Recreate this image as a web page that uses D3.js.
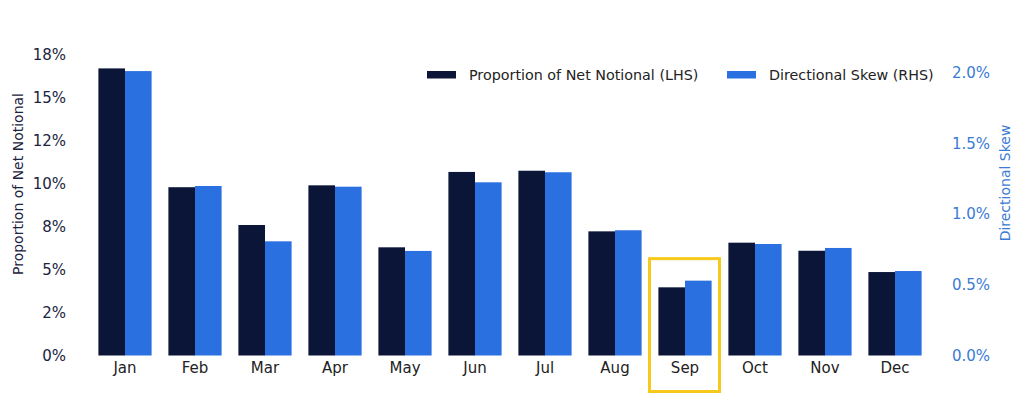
<!DOCTYPE html>
<html>
<head>
<meta charset="utf-8">
<script src="https://cdn.jsdelivr.net/npm/d3@7"></script>
<style>
	body { margin: 0; background: #fff; }
	svg text { font-family: 'DejaVu Sans', sans-serif; }
</style>
</head>
<body>
<svg id="chart" width="1024" height="402"></svg>
<script>
// chart values
const months = ['Jan', 'Feb', 'Mar', 'Apr', 'May', 'Jun', 'Jul', 'Aug', 'Sep', 'Oct', 'Nov', 'Dec'];
const netNotional = [16.72, 9.80, 7.60, 9.91, 6.30, 10.69, 10.76, 7.23, 3.97, 6.57, 6.10, 4.86];
const directionalSkew = [2.01, 1.198, 0.807, 1.193, 0.739, 1.224, 1.295, 0.885, 0.529, 0.788, 0.760, 0.597];
const leftTicks = [0, 2.5, 5, 7.5, 10, 12.5, 15, 17.5];
const leftTickLabels = ['0%', '2%', '5%', '8%', '10%', '12%', '15%', '18%'];
const rightTicks = [0, 0.5, 1, 1.5, 2];
const rightTickLabels = ['0.0%', '0.5%', '1.0%', '1.5%', '2.0%'];
const legendLabels = ['Proportion of Net Notional (LHS)', 'Directional Skew (RHS)'];
const highlightMonth = 'Sep';

const darkColor = '#0a1538';
const blueColor = '#2b70e0';
const highlightColor = '#f7c91a';

let svg = d3.select('#chart');

let x = d3.scaleBand().domain(months).range([90, 930]).padding(0);
let yLeft = d3.scaleLinear().domain([0, 17.5]).range([355.5, 55]);
let yRight = d3.scaleLinear().domain([0, 2]).range([355.5, 72.5]);
let barW = x.bandwidth() * 0.38;

//bars for both series
svg.append('g').selectAll('rect')
	.data(months)
	.join('rect')
	.attr('x', (d) => x(d) + x.bandwidth() / 2 - barW)
	.attr('y', (d, i) => yLeft(netNotional[i]))
	.attr('width', barW)
	.attr('height', (d, i) => yLeft(0) - yLeft(netNotional[i]))
	.attr('fill', darkColor);

svg.append('g').selectAll('rect')
	.data(months)
	.join('rect')
	.attr('x', (d) => x(d) + x.bandwidth() / 2)
	.attr('y', (d, i) => yRight(directionalSkew[i]))
	.attr('width', barW)
	.attr('height', (d, i) => yRight(0) - yRight(directionalSkew[i]))
	.attr('fill', blueColor);

//axes, no lines or tick marks
let leftAxis = svg.append('g')
	.attr('transform', 'translate(70,0)')
	.call(d3.axisLeft(yLeft).tickValues(leftTicks).tickFormat((d, i) => leftTickLabels[i]).tickSize(0).tickPadding(4));
leftAxis.selectAll('text').attr('font-size', 15).attr('fill', '#1b2340');

let rightAxis = svg.append('g')
	.attr('transform', 'translate(948,0)')
	.call(d3.axisRight(yRight).tickValues(rightTicks).tickFormat((d, i) => rightTickLabels[i]).tickSize(0).tickPadding(4));
rightAxis.selectAll('text').attr('font-size', 15).attr('fill', '#3a7bd5');

let bottomAxis = svg.append('g')
	.attr('transform', 'translate(0,358)')
	.call(d3.axisBottom(x).tickSize(0).tickPadding(4));
bottomAxis.selectAll('text').attr('font-size', 15).attr('fill', '#222');

svg.selectAll('.domain').remove();
svg.selectAll('text').attr('font-family', "'DejaVu Sans', sans-serif");

//axis titles
svg.append('text')
	.attr('transform', 'translate(18,184) rotate(-90)')
	.attr('text-anchor', 'middle')
	.attr('dominant-baseline', 'central')
	.attr('font-size', 14)
	.attr('fill', '#1b2340')
	.text('Proportion of Net Notional');

svg.append('text')
	.attr('transform', 'translate(1005,183) rotate(-90)')
	.attr('text-anchor', 'middle')
	.attr('dominant-baseline', 'central')
	.attr('font-size', 14)
	.attr('fill', '#3a7bd5')
	.text('Directional Skew');

//legend
const legendX = [427, 727];
const legendColors = [darkColor, blueColor];
for (let i = 0; i < legendLabels.length; i++) {
	svg.append('rect')
		.attr('x', legendX[i])
		.attr('y', 71)
		.attr('width', 29)
		.attr('height', 7.5)
		.attr('fill', legendColors[i]);
	svg.append('text')
		.attr('x', legendX[i] + 42)
		.attr('y', 75)
		.attr('dominant-baseline', 'central')
		.attr('font-size', 14.3)
		.attr('fill', '#222')
		.text(legendLabels[i]);
}

//highlight box around September
let hi = months.indexOf(highlightMonth);
let hiTop = Math.min(yLeft(netNotional[hi]), yRight(directionalSkew[hi])) - 22;
svg.append('rect')
	.attr('x', x(highlightMonth) - 0.5)
	.attr('y', hiTop)
	.attr('width', x.bandwidth())
	.attr('height', 391.5 - hiTop)
	.attr('fill', 'none')
	.attr('stroke', highlightColor)
	.attr('stroke-width', 3);
</script>
</body>
</html>
